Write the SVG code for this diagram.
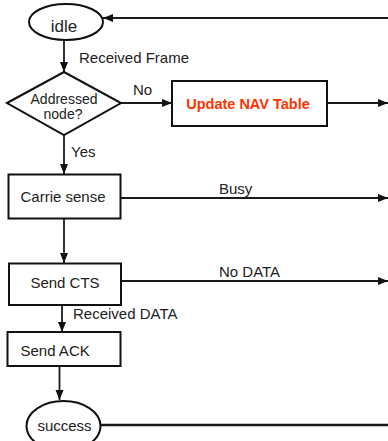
<svg xmlns="http://www.w3.org/2000/svg" width="388" height="441" viewBox="0 0 388 441">
  <style>
    .node { fill: #ffffff; stroke: #111111; stroke-width: 2; }
    .edge { fill: none; stroke: #1a1a1a; stroke-width: 1.8; }
    .lbl { font-family: "Liberation Sans", Arial, sans-serif; font-size: 15px; fill: #222222; }
    .ctr { text-anchor: middle; }
    .hot { font-family: "Liberation Sans", Arial, sans-serif; font-size: 14.5px; font-weight: bold; fill: #ff3300; text-anchor: middle; }
  </style>
  <defs>
    <marker id="arrow" markerUnits="userSpaceOnUse" markerWidth="10" markerHeight="10" viewBox="0 0 10 10" refX="10" refY="5" orient="auto">
      <path d="M0,1 L10,5 L0,9 Z" fill="#111111"/>
    </marker>
  </defs>

  <rect width="388" height="441" fill="#ffffff"/>

  <!-- connectors -->
  <g id="edges">
    <line class="edge" x1="64" y1="40" x2="64" y2="72" marker-end="url(#arrow)"/>
    <line class="edge" x1="388" y1="18" x2="103" y2="18" marker-end="url(#arrow)"/>
    <line class="edge" x1="121" y1="103" x2="172" y2="103" marker-end="url(#arrow)"/>
    <line class="edge" x1="327" y1="103" x2="388" y2="103" marker-end="url(#arrow)"/>
    <line class="edge" x1="64" y1="135" x2="64" y2="174" marker-end="url(#arrow)"/>
    <line class="edge" x1="121" y1="198" x2="388" y2="198" marker-end="url(#arrow)"/>
    <line class="edge" x1="64" y1="219" x2="64" y2="263" marker-end="url(#arrow)"/>
    <line class="edge" x1="121" y1="281" x2="388" y2="281" marker-end="url(#arrow)"/>
    <line class="edge" x1="62" y1="305" x2="62" y2="332" marker-end="url(#arrow)"/>
    <line class="edge" x1="59.5" y1="366" x2="59.5" y2="400" marker-end="url(#arrow)"/>
    <line class="edge" x1="100.5" y1="425" x2="388" y2="425" style="stroke-width:2.4"/>

    <text class="lbl" x="79" y="63">Received Frame</text>
    <text class="lbl" x="133" y="95">No</text>
    <text class="lbl" x="71" y="157">Yes</text>
    <text class="lbl" x="219" y="194">Busy</text>
    <text class="lbl" x="219" y="277">No DATA</text>
    <text class="lbl" x="73" y="319">Received DATA</text>
  </g>

  <g id="idle">
    <ellipse class="node" cx="66" cy="22" rx="37" ry="18"/>
    <text class="lbl ctr" x="64" y="32" style="font-size:17px">idle</text>
  </g>

  <g id="addressed">
    <polygon class="node" points="7,103 64,72 121,103 64,135"/>
    <text class="lbl ctr" x="64" y="104" style="font-size:14px">Addressed</text>
    <text class="lbl ctr" x="63" y="119" style="font-size:14px">node?</text>
  </g>

  <g id="update-nav">
    <rect class="node" x="172" y="81" width="155" height="45"/>
    <text class="hot" x="248" y="109">Update NAV Table</text>
  </g>

  <g id="carrier-sense">
    <rect class="node" x="8.5" y="174.5" width="112" height="44"/>
    <text class="lbl ctr" x="63" y="202">Carrie sense</text>
  </g>

  <g id="send-cts">
    <rect class="node" x="9" y="263.5" width="112" height="41.5"/>
    <text class="lbl ctr" x="65" y="288">Send CTS</text>
  </g>

  <g id="send-ack">
    <rect class="node" x="7.5" y="332" width="113" height="34"/>
    <text class="lbl" x="20.5" y="356">Send ACK</text>
  </g>

  <g id="success">
    <ellipse class="node" cx="63.5" cy="426" rx="37" ry="25"/>
    <text class="lbl ctr" x="64.5" y="431">success</text>
  </g>
</svg>
